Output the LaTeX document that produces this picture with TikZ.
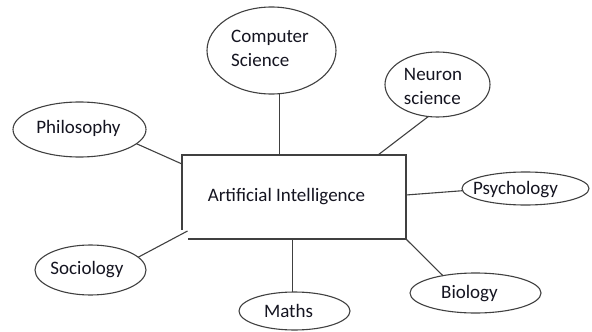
\documentclass[tikz,border=0pt]{standalone}
\usepackage{fontspec}
\setmainfont{Carlito}
\usetikzlibrary{shapes.geometric,calc}
\definecolor{linecol}{HTML}{404040}
\definecolor{textcol}{HTML}{141420}
\begin{document}
\begin{tikzpicture}[x=1pt,y=-1pt,
  ell/.style={draw=linecol, line width=1.1pt, ellipse, inner sep=0pt, outer sep=0pt},
  lbl/.style={inner sep=0pt, outer sep=0pt, text=textcol, font=\fontsize{19}{24}\selectfont, align=left},
  conn/.style={draw=linecol, line width=1.1pt}]
\useasboundingbox (0,0) rectangle (592,332);
% shapes
\node[ell, minimum width=129pt, minimum height=87pt] (cs) at (271.5,50.5) {};
\node[ell, minimum width=105pt, minimum height=65pt] (ns) at (437.5,84.5) {};
\node[ell, minimum width=133pt, minimum height=55pt] (ph) at (79.5,129.5) {};
\node[ell, minimum width=111pt, minimum height=50pt] (so) at (90.5,270) {};
\node[ell, minimum width=111pt, minimum height=38pt] (ma) at (294.5,311) {};
\node[ell, minimum width=127pt, minimum height=33pt] (ps) at (525.5,188.5) {};
\node[ell, minimum width=131pt, minimum height=40pt] (bi) at (475.5,293) {};
\node[inner sep=0pt, outer sep=0pt, minimum width=224pt, minimum height=84pt] (ai) at (294,197) {};
% box outline (open lower-left corner)
\draw[conn] ($(ai.south west)+(6,0)$) -- (ai.south east) -- (ai.north east) -- (ai.north west) -- ($(ai.south west)+(0,-9)$);
% texts
\node[lbl] (cst) at (270,48) {Computer\\Science};
\node[lbl] (nst) at (433,86) {Neuron\\science};
\node[lbl] (pht) at (78.5,128.5) {Philosophy};
\node[lbl] (sot) at (87,269.5) {Sociology};
\node[lbl] (mat) at (288.5,311) {Maths};
\node[lbl] (pst) at (515.5,189.5) {Psychology};
\node[lbl] (bit) at (469.5,293.5) {Biology};
\node[lbl] (ait) at (286.5,197) {Artificial Intelligence};
% connectors
\draw[conn] (cs.-79) -- (cs.-79 |- ai.north);
\draw[conn] (ns.-106) -- ($(ai.north east)+(-28,0)$);
\draw[conn] (ph.-14) -- ($(ai.north west)+(0,9)$);
\draw[conn] (so.15) -- ($(ai.south west)+(5.5,-8)$);
\draw[conn] (ma.96) -- (ma.96 |- ai.south);
\draw[conn] (ps.182) -- ($(ai.east)+(0,-2)$);
\draw[conn] (bi.152) -- (ai.south east);
\end{tikzpicture}
\end{document}
